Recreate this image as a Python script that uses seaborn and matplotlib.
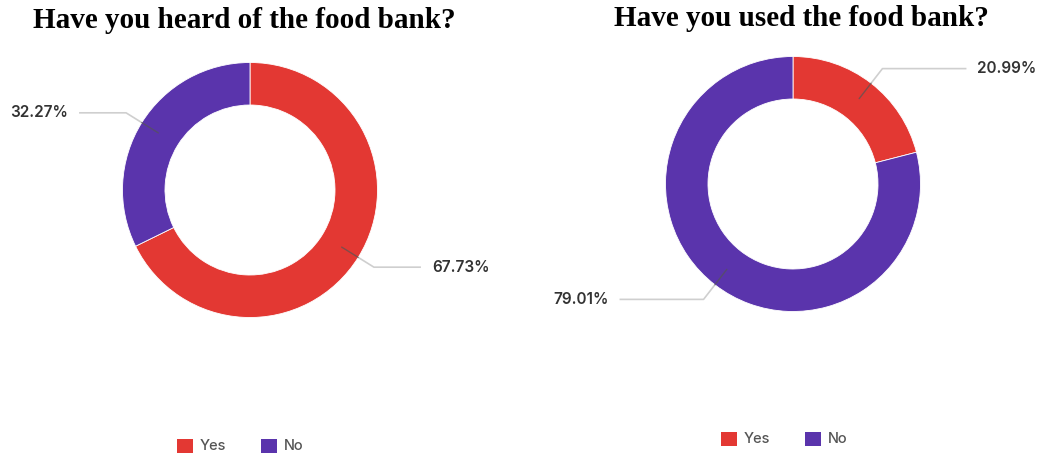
import numpy as np
import matplotlib
matplotlib.use("Agg")
import matplotlib.pyplot as plt
import seaborn as sns

# Survey answers (percent of respondents)
categories = ["Yes", "No"]
heard_values = [67.73, 32.27]
used_values = [20.99, 79.01]
titles = ["Have you heard of the food bank?", "Have you used the food bank?"]

sns.set_theme(style="white")
plt.rcParams["font.family"] = ["Inter", "DejaVu Sans"]
colors = sns.color_palette(["#E33833", "#5A34AC"])

W, H = 1039, 457
fig = plt.figure(figsize=(W / 100, H / 100), dpi=100)
ax = fig.add_axes([0, 0, 1, 1])

R_OUT, R_IN = 127.5, 85

charts = [
    dict(values=heard_values, center=(250, H - 190), title_xy=(244, H - 20),
         hlen=47, legend_xy=(240, H - 446)),
    dict(values=used_values, center=(793, H - 184), title_xy=(801, H - 19),
         hlen=84, legend_xy=(784, H - 439)),
]

legends = []
for spec, title in zip(charts, titles):
    vals = spec["values"]
    cx, cy = spec["center"]
    wedges, _ = ax.pie(vals, colors=colors, startangle=90, counterclock=False,
                       center=(cx, cy), radius=R_OUT,
                       wedgeprops=dict(width=R_OUT - R_IN, edgecolor="white",
                                       linewidth=0.6))
    # leader lines and percentage labels
    start = 90.0
    for v in vals:
        mid = np.deg2rad(start - v / 100 * 360 / 2)
        start -= v / 100 * 360
        ux, uy = np.cos(mid), np.sin(mid)
        p0 = (cx + 108 * ux, cy + 108 * uy)
        p_edge = (cx + R_OUT * ux, cy + R_OUT * uy)
        p1 = (cx + 146 * ux, cy + 146 * uy)
        side = 1 if ux > 0 else -1
        p2 = (p1[0] + side * spec["hlen"], p1[1])
        ax.plot([p_edge[0], p1[0], p2[0]], [p_edge[1], p1[1], p2[1]],
                color="#cfcfcf", lw=1.2, solid_capstyle="butt", zorder=3)
        ax.plot([p0[0], p_edge[0]], [p0[1], p_edge[1]],
                color="#555555", lw=1.0, alpha=0.7, zorder=3)
        ax.text(p2[0] + side * 11, p2[1], f"{v:.2f}%",
                ha="left" if side > 0 else "right", va="center",
                fontsize=11, color="#333333", fontweight="semibold")
    ax.text(*spec["title_xy"], title, ha="center", va="center",
            fontsize=21, fontweight="bold", color="black",
            family=["Liberation Serif", "DejaVu Serif"])
    leg = ax.legend(wedges, categories, loc="center",
                    bbox_to_anchor=spec["legend_xy"], bbox_transform=ax.transData,
                    ncol=2, frameon=False,
                    prop=dict(size=10.5, weight="medium"),
                    handlelength=1.1, handleheight=1.1, handletextpad=0.45,
                    columnspacing=2.4, labelcolor="#555555")
    for h in leg.legend_handles:
        h.set_edgecolor("none")
    legends.append(leg)

for leg in legends[:-1]:
    ax.add_artist(leg)

# pixel-like data coordinates across the whole figure (pie resets the limits)
ax.set_xlim(0, W)
ax.set_ylim(0, H)
ax.set_aspect("equal")
ax.axis("off")

fig.savefig("out.png", dpi=100)
